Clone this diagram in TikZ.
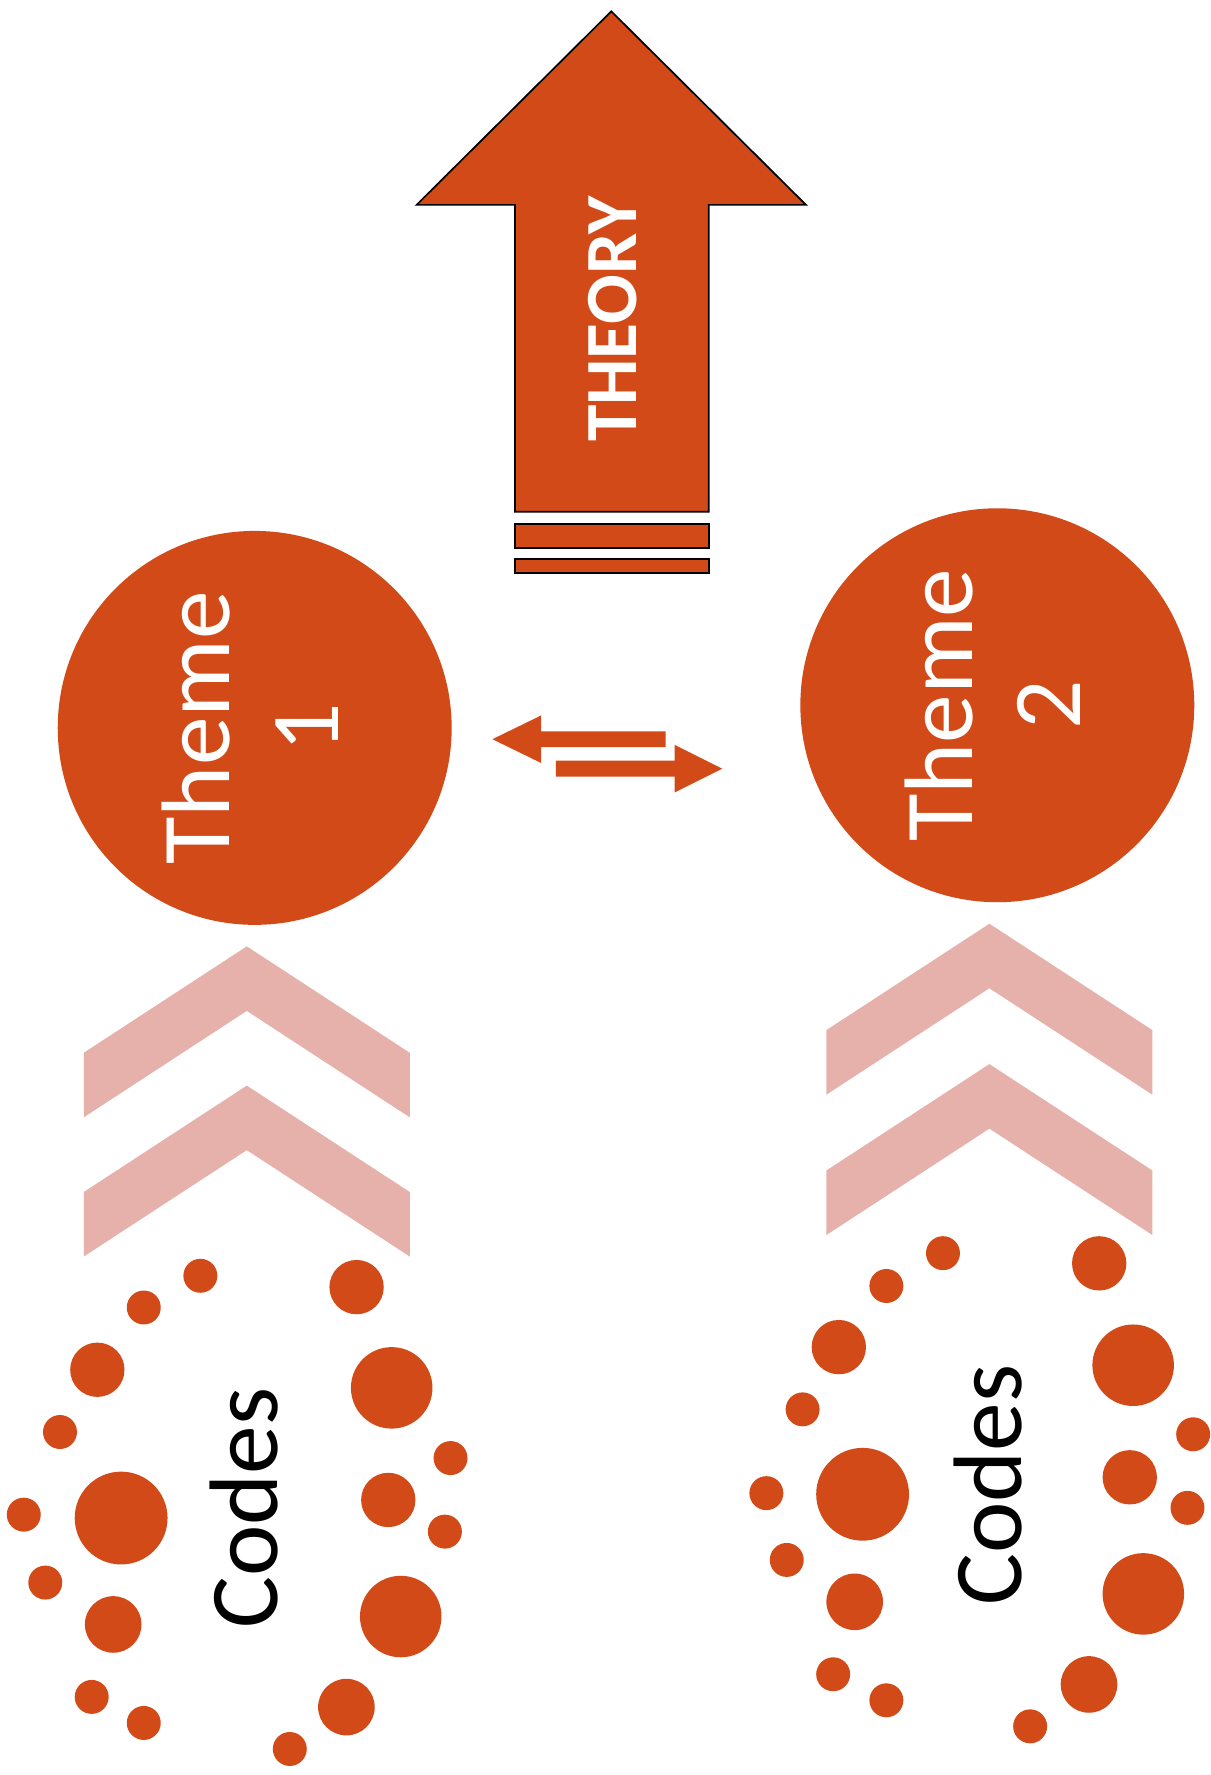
\documentclass[tikz,border=0pt]{standalone}
\usepackage{fontspec}
\setmainfont{Carlito}
\definecolor{orng}{HTML}{D24A18}
\definecolor{pnk}{HTML}{E6B1AB}
\begin{document}
\begin{tikzpicture}[x=1pt,y=-1pt,
  outl/.style={fill=orng,draw=black,line width=1.5pt,line join=miter},
  chev/.style={fill=pnk},
  dot/.style={fill=orng},
  theme/.style={circle,fill=orng,minimum size=348pt,inner sep=0pt},
  wlabel/.style={rotate=90,text=white,align=center,inner sep=0pt,font=\fontsize{86}{96}\selectfont},
  clabel/.style={rotate=90,text=black,inner sep=0pt,font=\fontsize{86}{96}\selectfont}]
\useasboundingbox (0,0) rectangle (1069,1568);
\fill[white] (0,0) rectangle (1069,1568);
% theory arrow
\draw[outl] (455,452) -- (455,181) -- (368,181) -- (540,10) -- (712,181) -- (626,181) -- (626,452) -- cycle;
\draw[outl] (455,463) rectangle (626,484);
\draw[outl] (455,494) rectangle (626,506);
\node[rotate=90,text=white,inner sep=0pt,font=\fontsize{65}{70}\selectfont\bfseries] (theory) at (541,282) {THEORY};
% themes
\node[theme] (t1) at (225,643) {};
\node[theme] (t2) at (881,623) {};
\node[wlabel] (t1l) at (221,643) {Theme\\1};
\node[wlabel] (t2l) at (877,623) {Theme\\2};
% exchange arrows
\fill[orng] (435,653) -- (478,632) -- (478,646) -- (588,646) -- (588,660) -- (478,660) -- (478,674) -- cycle;
\fill[orng] (638,679) -- (596,658) -- (596,672) -- (491,672) -- (491,686) -- (596,686) -- (596,700) -- cycle;
% chevrons
\foreach \cx/\y in {218/836, 218/959, 874/816, 874/940}{
  \fill[chev] (\cx,\y) -- ({\cx+144},{\y+94}) -- ({\cx+144},{\y+151}) -- (\cx,{\y+57}) -- ({\cx-144},{\y+151}) -- ({\cx-144},{\y+94}) -- cycle;
}
% codes labels
\node[clabel] (c1) at (216,1332) {Codes};
\node[clabel] (c2) at (873,1312) {Codes};
% dots left
\foreach \x/\y/\r in {177/1127/15, 127/1155/15, 86/1210/24, 53/1265/15, 107/1341/41, 21/1338/15, 40/1398/15, 100/1435/25, 81/1499/15, 127/1522/15, 256/1545/15, 306/1508/25, 354/1428/36, 343/1325/24, 393/1353/15, 398/1288/15, 346/1226/36, 315/1137/24}{
  \fill[dot] (\x,\y) circle[radius=\r];
}
% dots right
\foreach \x/\y/\r in {833/1107/15, 783/1136/15, 741/1190/24, 709/1245/15, 762/1320/41, 677/1319/15, 695/1378/15, 755/1415/25, 736/1479/15, 783/1502/15, 910/1525/15, 962/1488/25, 1010/1408/36, 998/1305/24, 1049/1332/15, 1054/1267/15, 1001/1206/36, 971/1116/24}{
  \fill[dot] (\x,\y) circle[radius=\r];
}
\end{tikzpicture}
\end{document}
